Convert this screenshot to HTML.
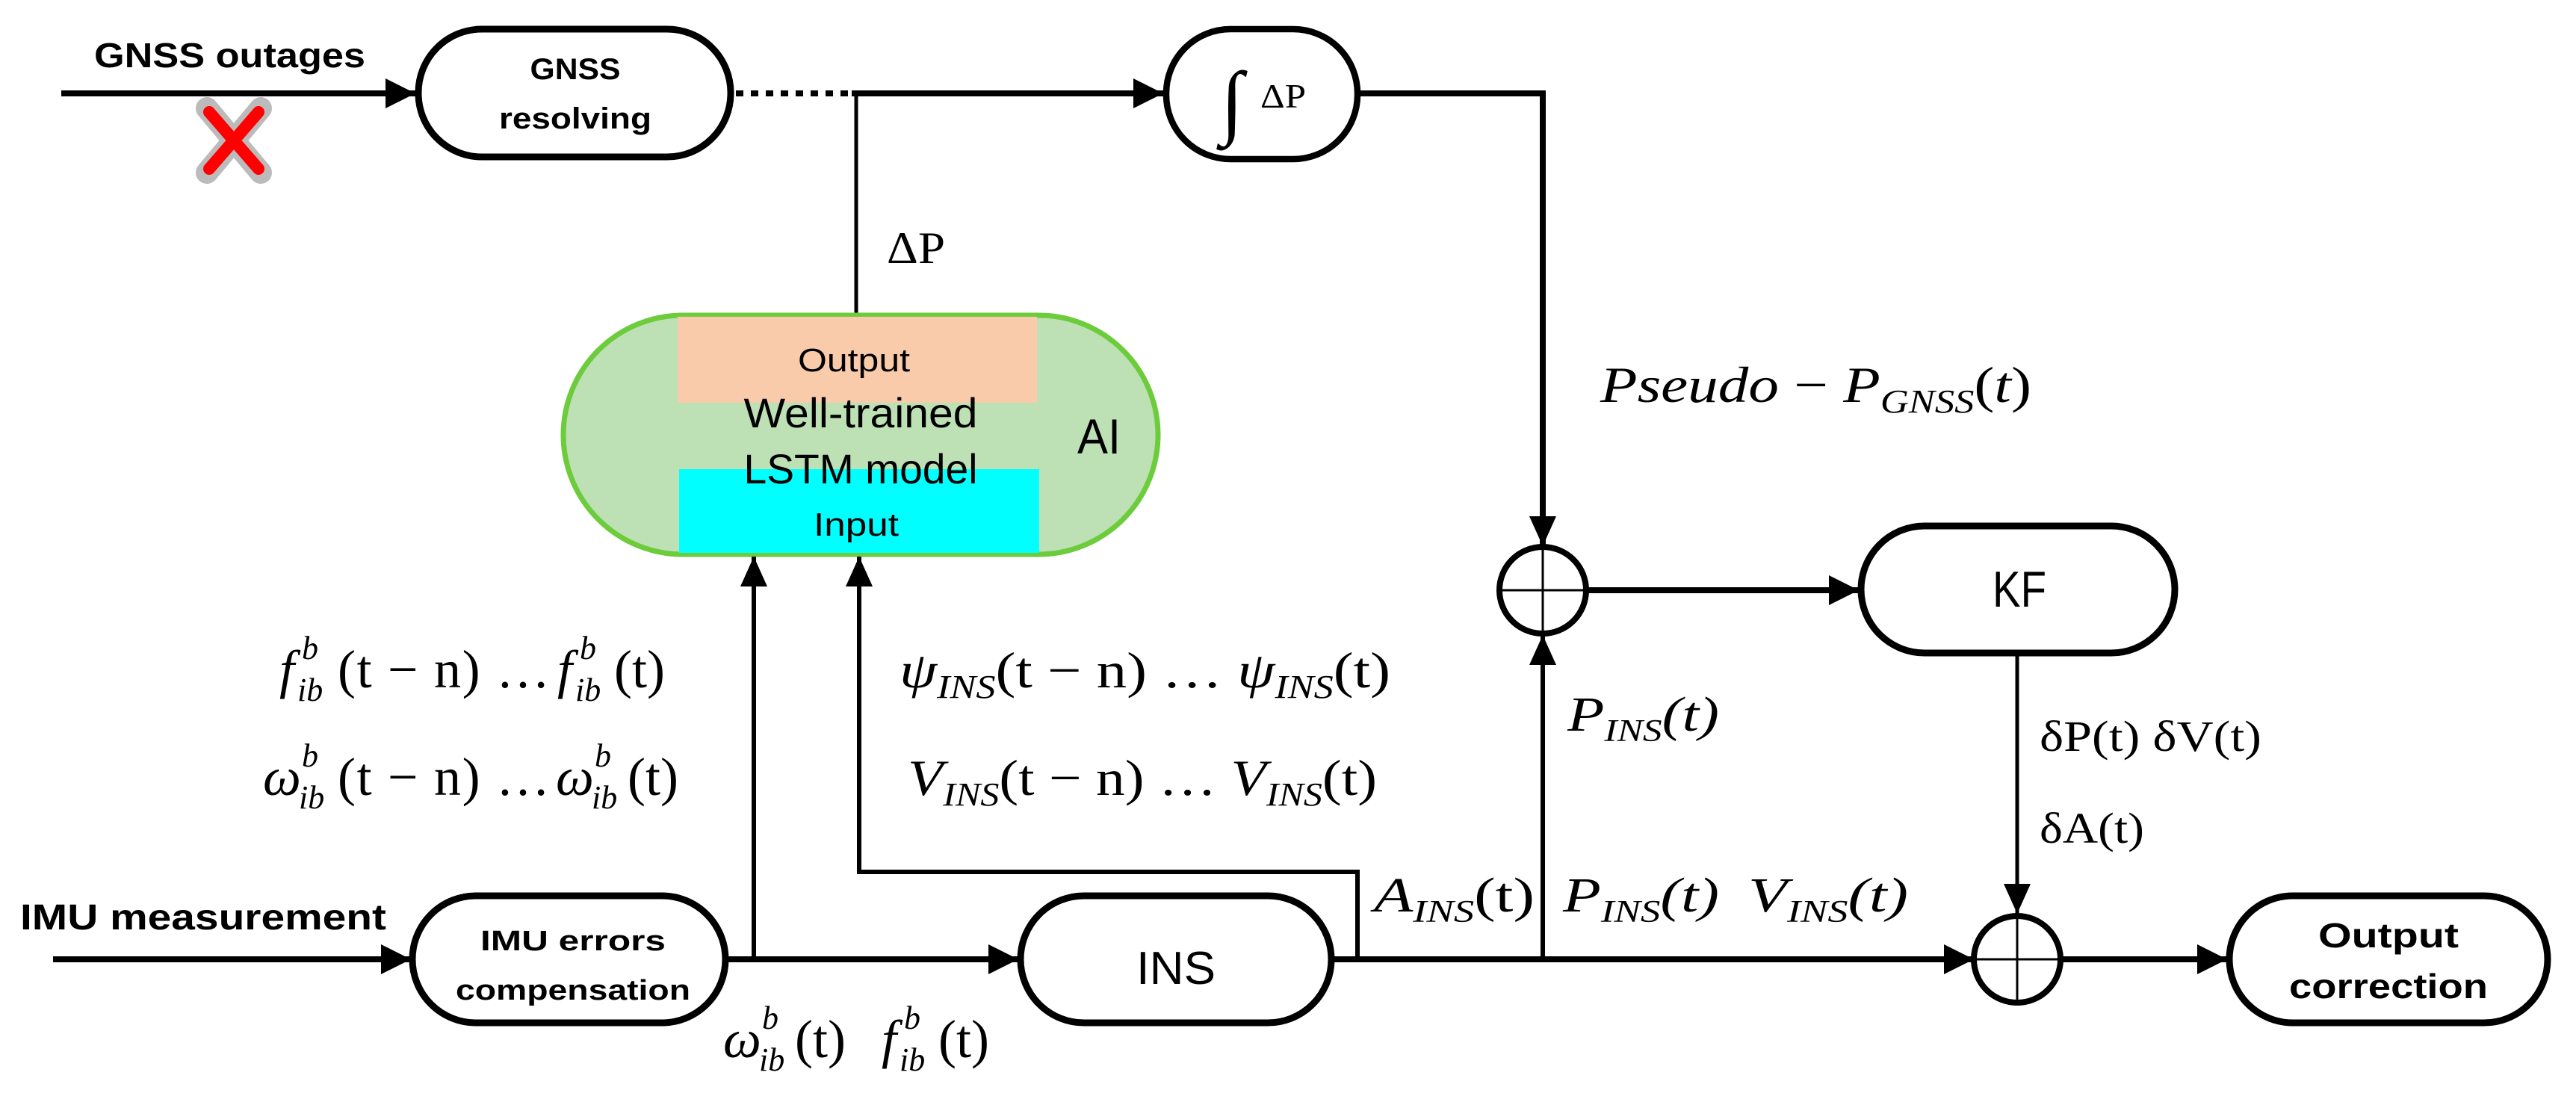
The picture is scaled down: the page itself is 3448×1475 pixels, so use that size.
<!DOCTYPE html>
<html><head><meta charset="utf-8"><style>
html,body{margin:0;padding:0;background:#fff;}
svg{display:block;}
.b{font-family:"Liberation Sans",sans-serif;font-weight:bold;}
.r{font-family:"Liberation Sans",sans-serif;}
.m{font-family:"Liberation Serif",serif;}
.i{font-style:italic;}
</style></head><body>
<svg width="3448" height="1475" viewBox="0 0 3448 1475" xmlns="http://www.w3.org/2000/svg">
<defs>
<marker id="a" markerUnits="userSpaceOnUse" markerWidth="40" markerHeight="40" viewBox="0 0 40 40" refX="40" refY="20" orient="auto"><path d="M0,0 L40,20 L0,40 Z" fill="#000"/></marker>
<marker id="t" markerUnits="userSpaceOnUse" markerWidth="40" markerHeight="40" viewBox="0 0 40 40" refX="40" refY="20" orient="auto"><path d="M0,2 L40,20 L0,38 Z" fill="#000"/></marker>
</defs>
<rect width="3448" height="1475" fill="#fff"/>

<text x="126" y="90" class="b" font-size="46" textLength="363" lengthAdjust="spacingAndGlyphs">GNSS outages</text>
<line x1="82" y1="125" x2="556" y2="125" stroke="#000" stroke-width="8" marker-end="url(#a)"/>
<g stroke-linecap="round">
<line x1="277" y1="145" x2="349" y2="231" stroke="#bbb" stroke-width="30"/>
<line x1="349" y1="145" x2="277" y2="231" stroke="#bbb" stroke-width="30"/>
<line x1="280" y1="150" x2="346" y2="226" stroke="#f00" stroke-width="16"/>
<line x1="346" y1="150" x2="280" y2="226" stroke="#f00" stroke-width="16"/>
</g>

<rect x="560" y="39" width="418" height="171" rx="85" ry="85" fill="#fff" stroke="#000" stroke-width="9"/>
<text x="770" y="106" class="b" font-size="40" text-anchor="middle" textLength="121" lengthAdjust="spacingAndGlyphs">GNSS</text>
<text x="770" y="172" class="b" font-size="40" text-anchor="middle" textLength="204" lengthAdjust="spacingAndGlyphs">resolving</text>

<line x1="985" y1="125" x2="1140" y2="125" stroke="#000" stroke-width="8" stroke-dasharray="10,10"/>
<line x1="1140" y1="125" x2="1557" y2="125" stroke="#000" stroke-width="8" marker-end="url(#a)"/>
<line x1="1146" y1="125" x2="1146" y2="424" stroke="#000" stroke-width="5"/>
<text x="1187" y="352" class="m" font-size="60" textLength="78" lengthAdjust="spacingAndGlyphs">ΔP</text>

<rect x="1561" y="39" width="256" height="174" rx="86" ry="86" fill="#fff" stroke="#000" stroke-width="8.5"/>
<text x="1634" y="172" class="m i" font-size="110">∫</text>
<text x="1687" y="144" class="m" font-size="46" textLength="61" lengthAdjust="spacingAndGlyphs">ΔP</text>
<polyline points="1817,125 2065,125 2065,731" fill="none" stroke="#000" stroke-width="8" marker-end="url(#t)"/>

<text x="2142" y="538" class="m i" font-size="68" textLength="577" lengthAdjust="spacingAndGlyphs">Pseudo<tspan font-style="normal"> − </tspan>P<tspan font-size="44" dy="14">GNSS</tspan><tspan font-style="normal" dy="-14">(</tspan>t<tspan font-style="normal">)</tspan></text>

<rect x="754" y="422" width="796" height="320" rx="160" ry="160" fill="#bde0b4" stroke="#6ccc3c" stroke-width="7"/>
<rect x="907" y="424" width="481" height="115" fill="#f9cbaa"/>
<rect x="909" y="628" width="482" height="112" fill="#00ffff"/>
<text x="1143" y="497" class="r" font-size="44" text-anchor="middle" textLength="150" lengthAdjust="spacingAndGlyphs">Output</text>
<text x="1152" y="572" class="r" font-size="56" text-anchor="middle" textLength="313" lengthAdjust="spacingAndGlyphs">Well-trained</text>
<text x="1152" y="647" class="r" font-size="56" text-anchor="middle" textLength="313" lengthAdjust="spacingAndGlyphs">LSTM model</text>
<text x="1146" y="717" class="r" font-size="44" text-anchor="middle" textLength="114" lengthAdjust="spacingAndGlyphs">Input</text>
<text x="1442" y="607" class="r" font-size="66" textLength="58" lengthAdjust="spacingAndGlyphs">AI</text>

<line x1="1009" y1="1284" x2="1009" y2="745" stroke="#000" stroke-width="6" marker-end="url(#t)"/>
<polyline points="1817,1284 1817,1167 1150,1167 1150,745" fill="none" stroke="#000" stroke-width="6" marker-end="url(#t)"/>

<g class="m" font-size="72">
<text x="374" y="920" class="i">f</text>
<text x="398" y="938" class="i" font-size="44">ib</text>
<text x="404" y="882" class="i" font-size="44">b</text>
<text x="452" y="920" textLength="284" lengthAdjust="spacing">(t − n) …</text>
<text x="746" y="920" class="i">f</text>
<text x="770" y="938" class="i" font-size="44">ib</text>
<text x="776" y="882" class="i" font-size="44">b</text>
<text x="822" y="920">(t)</text>

<text x="352" y="1064" class="i">ω</text>
<text x="400" y="1082" class="i" font-size="44">ib</text>
<text x="404" y="1026" class="i" font-size="44">b</text>
<text x="452" y="1064" textLength="284" lengthAdjust="spacing">(t − n) …</text>
<text x="744" y="1064" class="i">ω</text>
<text x="792" y="1082" class="i" font-size="44">ib</text>
<text x="796" y="1026" class="i" font-size="44">b</text>
<text x="840" y="1064">(t)</text>

<text x="968" y="1415" class="i">ω</text>
<text x="1016" y="1433" class="i" font-size="44">ib</text>
<text x="1020" y="1377" class="i" font-size="44">b</text>
<text x="1064" y="1415">(t)</text>
<text x="1180" y="1415" class="i">f</text>
<text x="1204" y="1433" class="i" font-size="44">ib</text>
<text x="1210" y="1377" class="i" font-size="44">b</text>
<text x="1256" y="1415">(t)</text>
</g>
<text x="1204" y="920" class="m" font-size="68" textLength="657" lengthAdjust="spacingAndGlyphs"><tspan font-style="italic">ψ</tspan><tspan font-size="44" font-style="italic" dy="14">INS</tspan><tspan dy="-14">(t − n) … </tspan><tspan font-style="italic">ψ</tspan><tspan font-size="44" font-style="italic" dy="14">INS</tspan><tspan dy="-14">(t)</tspan></text>
<text x="1215" y="1064" class="m" font-size="68" textLength="628" lengthAdjust="spacingAndGlyphs"><tspan font-style="italic">V</tspan><tspan font-size="44" font-style="italic" dy="14">INS</tspan><tspan dy="-14">(t − n) … </tspan><tspan font-style="italic">V</tspan><tspan font-size="44" font-style="italic" dy="14">INS</tspan><tspan dy="-14">(t)</tspan></text>

<text x="27" y="1244" class="b" font-size="48" textLength="490" lengthAdjust="spacingAndGlyphs">IMU measurement</text>
<line x1="71" y1="1284" x2="550" y2="1284" stroke="#000" stroke-width="8" marker-end="url(#a)"/>
<rect x="552" y="1199" width="419" height="170" rx="85" ry="85" fill="#fff" stroke="#000" stroke-width="9"/>
<text x="767" y="1272" class="b" font-size="38" text-anchor="middle" textLength="248" lengthAdjust="spacingAndGlyphs">IMU errors</text>
<text x="767" y="1338" class="b" font-size="38" text-anchor="middle" textLength="314" lengthAdjust="spacingAndGlyphs">compensation</text>
<line x1="971" y1="1284" x2="1363" y2="1284" stroke="#000" stroke-width="8" marker-end="url(#a)"/>

<rect x="1366" y="1199" width="416" height="170" rx="85" ry="85" fill="#fff" stroke="#000" stroke-width="9"/>
<text x="1574" y="1317" class="r" font-size="62" text-anchor="middle" textLength="106" lengthAdjust="spacingAndGlyphs">INS</text>
<line x1="1782" y1="1284" x2="2642" y2="1284" stroke="#000" stroke-width="8" marker-end="url(#a)"/>
<line x1="2065" y1="1284" x2="2065" y2="850" stroke="#000" stroke-width="6" marker-end="url(#t)"/>

<text x="1839" y="1220" class="m" font-size="66" textLength="215" lengthAdjust="spacingAndGlyphs"><tspan font-style="italic">A</tspan><tspan font-size="42" font-style="italic" dy="14">INS</tspan><tspan dy="-14">(t)</tspan></text>
<text x="2092" y="1220" class="m i" font-size="66" textLength="209" lengthAdjust="spacingAndGlyphs">P<tspan font-size="42" dy="14">INS</tspan><tspan dy="-14">(t)</tspan></text>
<text x="2340" y="1220" class="m i" font-size="66" textLength="214" lengthAdjust="spacingAndGlyphs">V<tspan font-size="42" dy="14">INS</tspan><tspan dy="-14">(t)</tspan></text>
<text x="2098" y="978" class="m i" font-size="66" textLength="203" lengthAdjust="spacingAndGlyphs">P<tspan font-size="42" dy="14">INS</tspan><tspan dy="-14">(t)</tspan></text>

<circle cx="2065" cy="790" r="58" fill="#fff" stroke="#000" stroke-width="8"/>
<line x1="2065" y1="732" x2="2065" y2="848" stroke="#000" stroke-width="3"/>
<line x1="2007" y1="790" x2="2123" y2="790" stroke="#000" stroke-width="3"/>
<line x1="2123" y1="790" x2="2488" y2="790" stroke="#000" stroke-width="8" marker-end="url(#a)"/>

<rect x="2491" y="704" width="420" height="170" rx="85" ry="85" fill="#fff" stroke="#000" stroke-width="9"/>
<text x="2703" y="812" class="r" font-size="68" text-anchor="middle" textLength="72" lengthAdjust="spacingAndGlyphs">KF</text>
<line x1="2700" y1="874" x2="2700" y2="1223" stroke="#000" stroke-width="5" marker-end="url(#t)"/>
<text x="2730" y="1005" class="m" font-size="58" textLength="297" lengthAdjust="spacingAndGlyphs">δP(t) δV(t)</text>
<text x="2730" y="1128" class="m" font-size="58" textLength="140" lengthAdjust="spacingAndGlyphs">δA(t)</text>

<circle cx="2700" cy="1284" r="58" fill="#fff" stroke="#000" stroke-width="8"/>
<line x1="2700" y1="1226" x2="2700" y2="1342" stroke="#000" stroke-width="3"/>
<line x1="2642" y1="1284" x2="2758" y2="1284" stroke="#000" stroke-width="3"/>
<line x1="2758" y1="1284" x2="2981" y2="1284" stroke="#000" stroke-width="8" marker-end="url(#a)"/>

<rect x="2984" y="1199" width="426" height="170" rx="85" ry="85" fill="#fff" stroke="#000" stroke-width="9"/>
<text x="3197" y="1268" class="b" font-size="46" text-anchor="middle" textLength="188" lengthAdjust="spacingAndGlyphs">Output</text>
<text x="3197" y="1336" class="b" font-size="46" text-anchor="middle" textLength="266" lengthAdjust="spacingAndGlyphs">correction</text>
</svg>
</body></html>
